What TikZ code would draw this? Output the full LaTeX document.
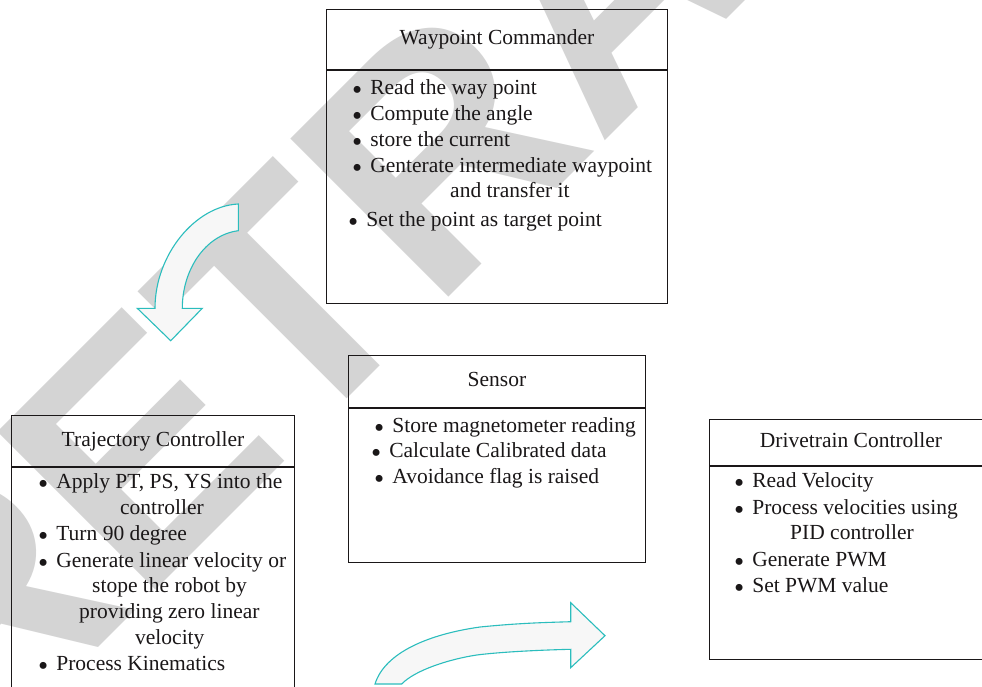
\documentclass[tikz,border=0pt]{standalone}
\usepackage{fontspec}
\setmainfont{Liberation Serif}
\newfontfamily\wmfont{Liberation Sans}
\definecolor{tealline}{HTML}{2BBDBD}
\definecolor{arrowfill}{HTML}{F7F7F7}
\definecolor{wmgray}{HTML}{D4D4D4}
\definecolor{ink}{HTML}{1A1718}
\newcommand\bl{{\fontsize{29}{29}\selectfont\raisebox{-5pt}{\textbullet}}\hspace{8pt}}
\tikzset{
  box/.style={draw=ink, line width=1.3pt, anchor=north west, inner sep=0pt},
  divider/.style={draw=ink, line width=1.3pt},
  titletext/.style={font=\fontsize{21.5}{26}\selectfont, text=ink, anchor=base, inner sep=0pt},
  item/.style={font=\fontsize{21.5}{26}\selectfont, text=ink, anchor=base west, inner sep=0pt},
  bigarrow/.style={draw=tealline, fill=arrowfill, line width=1.1pt, line join=miter},
  watermark/.style={anchor=base west, rotate=45, text=wmgray, inner sep=0pt,
    font=\wmfont\bfseries\fontsize{325}{325}\selectfont},
}
\begin{document}
\begin{tikzpicture}[x=1pt,y=-1pt]
\useasboundingbox (0,0) rectangle (982,686);
\fill[white] (0,0) rectangle (982,686);
% watermark
\node[watermark] (wm) at (-26,772) {RETRACTED};

% boxes
\node[box, minimum width=341pt, minimum height=294pt] (wc) at (326,9) {};
\draw[divider] (wc.north west |- 0,70) -- (wc.north east |- 0,70);
\node[box, minimum width=297pt, minimum height=207pt] (sn) at (348,355) {};
\draw[divider] (sn.north west |- 0,408) -- (sn.north east |- 0,408);
\node[box, minimum width=283pt, minimum height=300pt] (tc) at (11,415) {};
\draw[divider] (tc.north west |- 0,467) -- (tc.north east |- 0,467);
\node[box, minimum width=300pt, minimum height=240pt] (dc) at (709,419) {};
\draw[divider] (dc.north west |- 0,466) -- (dc.north east |- 0,466);

% titles
\node[titletext] (wct) at (497,44) {Waypoint Commander};
\node[titletext] (snt) at (497,386) {Sensor};
\node[titletext] (tct) at (153,446) {Trajectory Controller};
\node[titletext] (dct) at (851,447) {Drivetrain Controller};

% waypoint items
\node[item] (w1) at (352,94) {\bl Read the way point};
\node[item] (w2) at (352,120) {\bl Compute the angle};
\node[item] (w3) at (352,146) {\bl store the current};
\node[item] (w4) at (352,172) {\bl Genterate intermediate waypoint};
\node[item] (w4b) at (450,197) {and transfer it};
\node[item] (w5) at (348,226) {\bl Set the point as target point};

% sensor items
\node[item] (s1) at (374,432) {\bl Store magnetometer reading};
\node[item] (s2) at (371,457) {\bl Calculate Calibrated data};
\node[item] (s3) at (374,483) {\bl Avoidance flag is raised};

% trajectory items
\node[item] (t1) at (38,488) {\bl Apply PT, PS, YS into the};
\node[item] (t1b) at (120,514) {controller};
\node[item] (t2) at (38,540) {\bl Turn 90 degree};
\node[item] (t3) at (38,567) {\bl Generate linear velocity or};
\node[item] (t3b) at (92,592) {stope the robot by};
\node[item] (t3c) at (79,618) {providing zero linear};
\node[item] (t3d) at (135,644) {velocity};
\node[item] (t4) at (38,670) {\bl Process Kinematics};

% drivetrain items
\node[item] (d1) at (734,487) {\bl Read Velocity};
\node[item] (d2) at (734,514) {\bl Process velocities using};
\node[item] (d2b) at (790,539) {PID controller};
\node[item] (d3) at (734,566) {\bl Generate PWM};
\node[item] (d4) at (734,592) {\bl Set PWM value};

% curved arrow down (waypoint -> trajectory)
\draw[bigarrow] (238.3,204) .. controls (195,206) and (155,255) .. (155,308.3)
  -- (137.3,308.3) -- (170.7,340.7) -- (202.3,308.3) -- (182.3,308.3)
  .. controls (182.3,270) and (205,235) .. (238.3,230.7) -- cycle;

% curved arrow right (trajectory -> drivetrain)
\draw[bigarrow] (375,684) .. controls (385,652) and (430,634) .. (480,627)
  .. controls (520,623) and (545,622.5) .. (570.7,621.7)
  -- (570.7,602.7) -- (605,635.7) -- (570.7,667.7) -- (570.7,649.3)
  .. controls (540,650) and (500,652) .. (476.7,655)
  .. controls (450,659) and (415,670) .. (401.7,684) -- cycle;
\end{tikzpicture}
\end{document}
